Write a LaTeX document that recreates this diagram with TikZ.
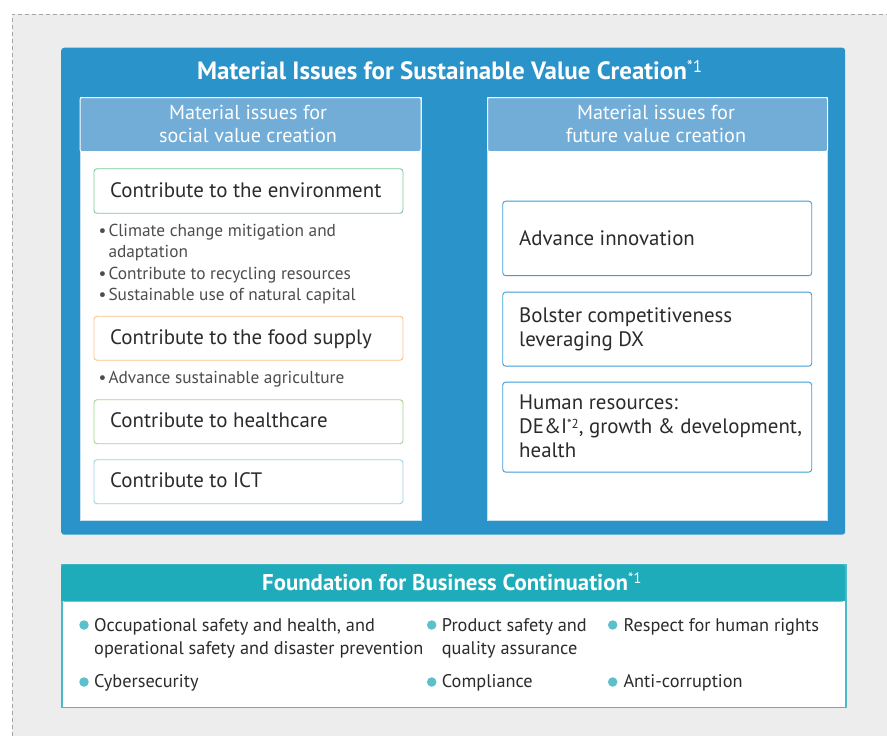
\documentclass[tikz,border=0pt]{standalone}
\usepackage{fontspec}
\setmainfont{PT Sans}
\definecolor{bggray}{HTML}{EDEDED}
\definecolor{dashgray}{HTML}{A6A6A6}
\definecolor{mainblue}{HTML}{2A93C9}
\definecolor{hdrblue}{HTML}{72ADD8}
\definecolor{paneledge}{HTML}{C8E2F2}
\definecolor{tealhdr}{HTML}{1EACBB}
\definecolor{tealedge}{HTML}{4BBAC8}
\definecolor{dotteal}{HTML}{5BBFCC}
\definecolor{envgreen}{HTML}{7DC99B}
\definecolor{foodorange}{HTML}{F7C28E}
\definecolor{healthgreen}{HTML}{A3D48F}
\definecolor{ictblue}{HTML}{9ED3E0}
\definecolor{rbox}{HTML}{3D9DD8}
\definecolor{darktext}{HTML}{2B2B2B}
\definecolor{graytext}{HTML}{4D4D4D}
\newcommand{\supmark}[2]{\raisebox{#2}{\normalfont\fontsize{#1}{#1}\selectfont *}\raisebox{#2}{\normalfont\fontsize{#1}{#1}\selectfont\kern-0.5pt}}
\begin{document}
\begin{tikzpicture}[x=1pt,y=-1pt,
  area/.style={inner sep=0pt, anchor=north west},
  itembox/.style={area, draw=#1, line width=0.9pt, fill=white, rounded corners=3pt, minimum width=309pt},
  boxtext/.style={inner sep=0pt, anchor=base west, text=darktext, align=left, font=\fontsize{20.9}{24}\selectfont},
  subtext/.style={inner sep=0pt, anchor=base west, text=graytext, font=\fontsize{17.3}{21}\selectfont},
  hdrtext/.style={inner sep=0pt, text=white, align=center, font=\fontsize{20.2}{23.3}\selectfont},
  foottext/.style={inner sep=0pt, anchor=base west, text=darktext, align=left, font=\fontsize{18.3}{23.3}\selectfont},
  tdot/.style={circle, fill=dotteal, inner sep=0pt, minimum size=9.5pt},
]
\useasboundingbox (0,0) rectangle (887,736);
% background
\fill[bggray] (12,14) rectangle (887,736);
\draw[dashgray, line width=0.9pt, dash pattern=on 4pt off 3pt] (12,736) -- (12,14) -- (887,14);

% main blue box
\node[area, fill=mainblue, rounded corners=3pt, minimum width=784pt, minimum height=487pt] (main) at (61,47.5) {};
\node[inner sep=0pt, anchor=base west, text=white, font=\bfseries\fontsize{25}{28}\selectfont] (title) at (197,79)
  {Material Issues for Sustainable Value Creation\raisebox{7pt}{\normalfont\fontsize{17}{17}\selectfont *1}};

% panels
\node[area, fill=white, draw=paneledge, line width=0.8pt, minimum width=341pt, minimum height=423pt] (lp) at (79.5,97) {};
\node[area, fill=hdrblue, draw=white, line width=1pt, rounded corners=2pt, minimum width=341pt, minimum height=54pt] (lh) at (79.5,97) {};
\node[hdrtext, anchor=base] (lht) at (248,142.3) {Material issues for\\social value creation};

\node[area, fill=white, draw=paneledge, line width=0.8pt, minimum width=340pt, minimum height=423pt] (rp) at (487,97) {};
\node[area, fill=hdrblue, draw=white, line width=1pt, rounded corners=2pt, minimum width=340pt, minimum height=54pt] (rh) at (487,97) {};
\node[hdrtext, anchor=base] (rht) at (656,142.3) {Material issues for\\future value creation};

% left column
\node[itembox=envgreen, minimum height=44.5pt] (env) at (93.5,168.3) {};
\node[boxtext] (envt) at (110,197.7) {Contribute to the environment};
\node[subtext] (b1) at (98.5,236) {\textbullet};
\node[subtext] (s1) at (108.3,236) {Climate change mitigation and};
\node[subtext] (s1b) at (108.3,257.3) {adaptation};
\node[subtext] (b2) at (98.5,279) {\textbullet};
\node[subtext] (s2) at (108.3,279) {Contribute to recycling resources};
\node[subtext] (b3) at (98.5,300) {\textbullet};
\node[subtext] (s3) at (108.3,300) {Sustainable use of natural capital};

\node[itembox=foodorange, minimum height=44pt] (food) at (93.5,315.8) {};
\node[boxtext] (foodt) at (110,344.3) {Contribute to the food supply};
\node[subtext] (b4) at (98.5,383) {\textbullet};
\node[subtext] (s4) at (108.3,383) {Advance sustainable agriculture};

\node[itembox=healthgreen, minimum height=44pt] (health) at (93.5,399.3) {};
\node[boxtext] (healtht) at (110,427.7) {Contribute to healthcare};

\node[itembox=ictblue, minimum height=44pt] (ict) at (93.5,459.3) {};
\node[boxtext] (ictt) at (110,487.7) {Contribute to ICT};

% right column
\node[itembox=rbox, minimum height=74.5pt] (innov) at (502.3,200.7) {};
\node[boxtext] (innovt) at (519,245) {Advance innovation};
\node[itembox=rbox, minimum height=74pt] (dx) at (502.3,291.7) {};
\node[boxtext] (dxt) at (519,346.7) {Bolster competitiveness\\leveraging DX};
\node[itembox=rbox, minimum height=90pt] (hr) at (502.3,381.7) {};
\node[boxtext] (hrt) at (519,457.7) {Human resources:\\DE\&I\raisebox{5.5pt}{\fontsize{13}{13}\selectfont *2}, growth \& development,\\health};

% foundation box
\node[area, fill=white, draw=tealedge, line width=1.5pt, minimum width=784pt, minimum height=142.5pt] (fb) at (61,564.3) {};
\node[area, fill=tealhdr, rounded corners=3pt, minimum width=784pt, minimum height=37pt] (fh) at (61,564.3) {};
\fill[tealhdr] (61,590) rectangle (845,601);
\node[inner sep=0pt, anchor=base west, text=white, font=\bfseries\fontsize{22.8}{26}\selectfont] (fht) at (262,590)
  {Foundation for Business Continuation\raisebox{6.5pt}{\normalfont\fontsize{15}{15}\selectfont *1}};

\node[tdot] (d1) at (84,625) {};
\node[foottext] (f1) at (94,654.3) {Occupational safety and health, and\\operational safety and disaster prevention};
\node[tdot] (d2) at (84,682) {};
\node[foottext] (f2) at (94,687.7) {Cybersecurity};
\node[tdot] (d3) at (431.7,625) {};
\node[foottext] (f3) at (441.7,654.3) {Product safety and\\quality assurance};
\node[tdot] (d4) at (431.7,682) {};
\node[foottext] (f4) at (441.7,687.7) {Compliance};
\node[tdot] (d5) at (612.7,625) {};
\node[foottext] (f5) at (623.3,631) {Respect for human rights};
\node[tdot] (d6) at (612.7,682) {};
\node[foottext] (f6) at (623.3,687.7) {Anti-corruption};
\end{tikzpicture}
\end{document}
